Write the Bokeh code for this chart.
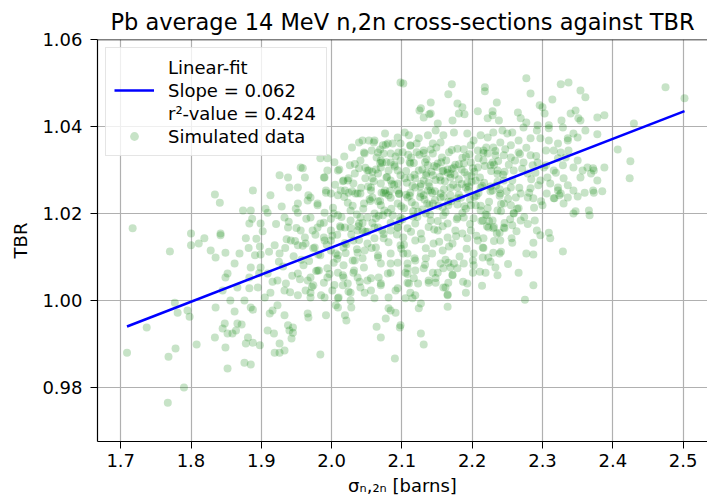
from bokeh.plotting import figure
from bokeh.models import (Range1d, FixedTicker, Span, Legend, LegendItem,
                          NumeralTickFormatter)
from bokeh.embed import file_html
from bokeh.resources import INLINE

# ---- data ----
TITLE = "Pb average 14 MeV n,2n cross-sections against TBR"
X_LABEL = "σₙ,₂ₙ [barns]"
Y_LABEL = "TBR"
X_TICKS = [1.7, 1.8, 1.9, 2.0, 2.1, 2.2, 2.3, 2.4, 2.5]
Y_TICKS = [0.98, 1.00, 1.02, 1.04, 1.06]

FIT_SLOPE = 0.0624
FIT_INTERCEPT = 0.8874
FIT_LABELS = ["Linear-fit", "Slope = 0.062", "r²-value = 0.424"]
SCATTER_LABEL = "Simulated data"

# outer / sparse points
sigma_n2n = [
    2.098, 2.044, 2.061, 2.080, 2.076, 2.094, 1.994, 2.047, 2.066, 2.084,
    1.956, 1.926, 1.938, 1.952, 1.962, 1.990, 2.009, 2.023, 2.033, 2.051,
    2.070, 1.834, 1.841, 1.888, 1.913, 1.940, 1.970, 1.952, 1.980, 1.999,
    2.019, 2.037, 2.056, 2.076, 2.094, 1.874, 1.885, 1.909, 1.933, 1.952,
    1.970, 1.990, 2.009, 2.027, 2.041, 2.061, 2.080, 1.717, 1.800, 1.842,
    1.883, 1.899, 1.938, 1.956, 1.980, 1.999, 2.019, 2.037, 2.061, 2.084,
    1.770, 1.800, 1.811, 1.819, 1.828, 1.835, 1.842, 1.849, 1.862, 1.869,
    1.878, 1.891, 1.899, 1.898, 1.852, 1.849, 1.845, 1.883, 1.895, 1.866,
    1.876, 1.856, 1.777, 1.781, 1.795, 1.798, 1.737, 1.835, 1.862, 1.885,
    1.888, 1.848, 1.845, 1.852, 1.859, 1.864, 1.866, 1.872, 1.834, 1.881,
    1.888, 1.878, 1.898, 1.849, 1.808, 1.778, 1.709, 1.768, 1.852, 1.876,
    1.885, 1.790, 1.767, 1.909, 1.918, 1.912, 1.916, 1.923, 1.933, 1.938,
    1.945, 1.940, 1.945, 1.943, 1.926, 1.919, 1.926, 1.933, 1.966, 1.967,
    1.984, 1.992, 2.009, 2.019, 2.021, 2.028, 2.064, 2.070, 2.077, 2.084,
    2.090, 2.097, 2.091, 1.919, 1.926, 1.942, 1.952, 1.962, 1.976, 1.990,
    1.999, 2.009, 2.033, 2.047, 2.066, 2.084, 1.909, 1.923, 1.935, 1.952,
    1.966, 1.980, 1.994, 2.009, 2.023, 2.037, 2.051, 2.070, 2.080, 2.091,
    1.913, 1.933, 1.952, 1.970, 1.990, 2.009, 2.027, 2.047, 2.061, 1.905,
    1.899, 1.885, 1.883, 2.102, 2.108, 2.105, 2.119, 2.117, 2.108, 2.112,
    2.105, 2.115, 2.127, 2.098, 2.127, 2.131, 2.138, 2.148, 2.151, 2.155,
    2.166, 2.169, 2.172, 2.166, 2.159, 2.165, 2.165, 2.188, 2.193, 2.191,
    2.201, 2.202, 2.219, 2.202, 2.215, 2.223, 2.215, 2.233, 2.230, 2.239,
    2.257, 2.266, 2.275, 2.277, 2.287, 2.287, 2.287, 2.297, 2.311, 2.329,
    2.263, 2.350, 2.360, 2.373, 2.385, 2.347, 2.344, 2.366, 2.367, 2.309,
    2.292, 2.289, 2.300, 2.317, 2.306, 2.324, 2.240, 2.239, 2.245, 2.235,
    2.230, 2.223, 2.216, 2.208, 2.269, 2.257, 2.259, 2.266, 2.255, 2.245,
    2.279, 2.287, 2.262, 2.236, 2.222, 2.212, 2.198, 2.202, 2.188, 2.186,
    2.198, 2.193, 2.215, 2.229, 2.475, 2.502, 2.430, 2.407, 2.425, 2.424,
    2.277, 2.326, 2.337, 2.354, 2.361, 2.378, 2.388, 2.378, 2.388, 2.171,
    2.166, 2.218, 2.218, 2.235, 2.208, 2.179, 2.186, 2.189, 2.141, 2.125,
    2.139, 2.131, 2.102, 2.283, 2.296, 2.300, 2.314, 2.303, 2.265, 2.269,
    2.277, 2.222, 2.229, 2.238, 2.293, 2.309, 2.327, 2.329, 2.340, 2.347,
    2.351, 2.354, 2.361, 2.344, 2.350, 2.336, 2.322, 2.344, 2.357, 2.364,
    2.369, 2.372, 2.354, 2.330, 2.322, 2.326, 2.336, 2.316, 2.330, 2.344,
    2.302, 2.316, 2.333, 2.322, 2.229, 2.309, 2.292, 2.273, 2.257, 2.243,
    2.250, 2.230, 2.222, 2.212, 2.202, 2.198, 2.193, 2.208, 2.216, 2.230,
    2.240, 2.255, 2.266, 2.283, 2.297, 2.309, 2.336, 2.305, 2.316, 2.326,
    2.337, 2.350, 2.373, 2.378, 2.372, 2.336, 2.322, 2.311, 2.307, 2.319,
    2.329, 2.293, 2.297, 2.283, 2.269, 2.255, 2.245, 2.236, 2.226, 2.216,
    2.208, 2.198, 2.188, 2.193, 2.205, 2.212, 2.191, 2.229, 2.240, 2.259,
    2.273, 2.283, 2.266, 2.255, 2.245, 2.233, 2.222, 2.279, 2.290, 2.305,
    2.127, 2.141, 2.151, 2.172, 2.181, 2.104, 2.110, 2.124, 2.137, 2.148,
    2.159, 2.174, 2.155, 2.144, 2.131, 2.112, 2.098, 2.087, 2.073, 2.060,
    2.039, 2.046, 2.057, 2.074, 2.095, 2.070, 2.084, 2.098, 2.112, 2.039,
    2.053, 2.066, 2.081, 2.094, 2.048, 2.058, 2.070, 2.084, 2.098, 2.017,
    2.031, 2.013, 2.024, 2.041, 2.056, 2.077, 2.094, 1.984, 1.989, 1.994,
    1.959, 1.992, 1.967, 2.112, 2.124, 2.137, 2.151, 2.159, 2.174, 2.119,
    2.131, 2.144, 2.155, 2.169, 2.179, 2.127, 2.141, 2.155, 2.169, 1.966,
    1.980, 1.992, 2.009, 2.023, 2.034, 2.046, 2.058, 2.070, 2.081, 2.094,
    2.108, 2.119, 2.131, 2.144, 2.155, 2.166, 2.179, 2.112, 2.074, 1.973,
    1.984, 1.989, 2.003, 2.013, 2.027, 2.039, 2.044, 2.051, 2.066, 2.073,
    2.084, 2.098, 2.108, 2.119, 2.127, 2.141, 2.151, 2.165, 2.176, 2.179,
    2.159, 2.134, 2.094, 1.963, 1.974, 1.999, 2.006, 2.017, 2.031, 2.037,
    2.051, 2.063, 2.074, 2.084, 2.098, 2.108, 2.119, 2.134, 2.145, 2.158,
    2.172, 2.165, 2.102, 2.066, 1.984, 1.960, 1.970, 1.982, 1.994, 2.003,
    2.017, 2.030, 2.031, 2.046, 2.056, 2.070, 2.084, 2.094, 2.108, 2.119,
    2.131, 2.144, 2.134, 2.159, 2.174, 2.067, 2.017, 1.963, 1.974, 1.989,
    2.001, 2.016, 2.027, 2.041, 2.056, 2.070, 2.081, 2.094, 2.110, 2.119,
    2.138, 2.162, 2.165, 1.970, 2.010, 2.081, 2.124, 2.006,
]

tbr = [
    1.0501, 1.0368, 1.0368, 1.0361, 1.0384, 1.0375, 1.0327, 1.0338, 1.0340, 1.0338,
    1.0306, 1.0288, 1.0283, 1.0260, 1.0283, 1.0283, 1.0299, 1.0276, 1.0292, 1.0299,
    1.0306, 1.0244, 1.0225, 1.0253, 1.0242, 1.0260, 1.0237, 1.0223, 1.0219, 1.0246,
    1.0253, 1.0246, 1.0260, 1.0253, 1.0269, 1.0207, 1.0207, 1.0202, 1.0191, 1.0202,
    1.0191, 1.0202, 1.0196, 1.0207, 1.0191, 1.0200, 1.0202, 1.0166, 1.0154, 1.0154,
    1.0177, 1.0177, 1.0168, 1.0161, 1.0168, 1.0161, 1.0168, 1.0161, 1.0168, 1.0161,
    1.0113, 1.0127, 1.0131, 1.0143, 1.0115, 1.0099, 1.0150, 1.0110, 1.0085, 1.0108,
    1.0143, 1.0104, 1.0106, 1.0124, 1.0062, 1.0053, 1.0023, 1.0053, 1.0030, 1.0030,
    1.0000, 1.0000, 0.9995, 0.9972, 0.9977, 0.9963, 0.9938, 0.9984, 0.9975, 0.9984,
    0.9979, 0.9947, 0.9936, 0.9924, 0.9924, 0.9931, 0.9947, 0.9945, 0.9915, 0.9915,
    0.9903, 0.9901, 0.9897, 0.9892, 0.9899, 0.9890, 0.9880, 0.9871, 0.9844, 0.9857,
    0.9853, 0.9800, 0.9765, 0.9931, 0.9924, 0.9970, 0.9977, 0.9989, 0.9966, 0.9943,
    0.9938, 0.9931, 0.9926, 0.9913, 0.9901, 0.9880, 0.9880, 0.9885, 0.9970, 0.9961,
    0.9876, 0.9966, 0.9984, 0.9966, 0.9954, 0.9984, 0.9940, 0.9915, 0.9959, 0.9977,
    0.9867, 0.9938, 0.9972, 1.0127, 1.0108, 1.0138, 1.0127, 1.0145, 1.0122, 1.0138,
    1.0115, 1.0104, 1.0092, 1.0115, 1.0099, 1.0085, 1.0062, 1.0046, 1.0039, 1.0062,
    1.0046, 1.0069, 1.0053, 1.0064, 1.0039, 1.0053, 1.0046, 1.0039, 1.0062, 1.0023,
    1.0018, 1.0023, 1.0012, 1.0018, 1.0007, 1.0005, 1.0000, 1.0018, 1.0005, 1.0007,
    1.0076, 1.0076, 1.0028, 1.0108, 1.0085, 1.0064, 1.0069, 1.0051, 1.0041, 1.0018,
    1.0005, 1.0005, 0.9993, 0.9943, 0.9924, 0.9899, 1.0041, 1.0041, 1.0064, 1.0085,
    1.0087, 1.0076, 1.0058, 1.0041, 1.0030, 1.0014, 0.9986, 1.0085, 1.0039, 1.0018,
    1.0064, 1.0081, 1.0064, 1.0108, 1.0099, 1.0099, 1.0122, 1.0076, 1.0110, 1.0108,
    1.0133, 1.0064, 1.0002, 1.0108, 1.0106, 1.0035, 1.0133, 1.0150, 1.0143, 1.0113,
    1.0159, 1.0239, 1.0248, 1.0248, 1.0251, 1.0205, 1.0200, 1.0207, 1.0196, 1.0156,
    1.0161, 1.0184, 1.0219, 1.0235, 1.0246, 1.0242, 1.0138, 1.0156, 1.0168, 1.0154,
    1.0166, 1.0168, 1.0143, 1.0138, 1.0184, 1.0173, 1.0200, 1.0212, 1.0219, 1.0223,
    1.0237, 1.0235, 1.0237, 1.0207, 1.0212, 1.0207, 1.0219, 1.0189, 1.0191, 1.0154,
    1.0161, 1.0143, 1.0184, 1.0184, 1.0490, 1.0465, 1.0407, 1.0347, 1.0320, 1.0281,
    1.0511, 1.0497, 1.0501, 1.0483, 1.0467, 1.0421, 1.0426, 1.0382, 1.0306, 1.0497,
    1.0474, 1.0490, 1.0481, 1.0455, 1.0435, 1.0453, 1.0444, 1.0428, 1.0455, 1.0437,
    1.0428, 1.0421, 1.0499, 1.0476, 1.0449, 1.0444, 1.0462, 1.0430, 1.0432, 1.0419,
    1.0409, 1.0419, 1.0426, 1.0414, 1.0403, 1.0403, 1.0414, 1.0398, 1.0430, 1.0437,
    1.0419, 1.0414, 1.0391, 1.0384, 1.0375, 1.0368, 1.0361, 1.0306, 1.0299, 1.0306,
    1.0292, 1.0304, 1.0283, 1.0281, 1.0260, 1.0246, 1.0237, 1.0235, 1.0223, 1.0253,
    1.0306, 1.0299, 1.0329, 1.0327, 1.0435, 1.0396, 1.0391, 1.0398, 1.0386, 1.0391,
    1.0384, 1.0386, 1.0375, 1.0380, 1.0368, 1.0357, 1.0384, 1.0345, 1.0345, 1.0352,
    1.0363, 1.0357, 1.0368, 1.0373, 1.0373, 1.0368, 1.0373, 1.0345, 1.0345, 1.0340,
    1.0345, 1.0322, 1.0299, 1.0276, 1.0253, 1.0265, 1.0253, 1.0269, 1.0283, 1.0294,
    1.0311, 1.0317, 1.0276, 1.0258, 1.0246, 1.0260, 1.0276, 1.0299, 1.0311, 1.0322,
    1.0306, 1.0317, 1.0315, 1.0288, 1.0276, 1.0260, 1.0260, 1.0253, 1.0246, 1.0299,
    1.0317, 1.0334, 1.0340, 1.0329, 1.0334, 1.0334, 1.0338, 1.0292, 1.0294, 1.0311,
    1.0442, 1.0430, 1.0407, 1.0414, 1.0430, 1.0386, 1.0380, 1.0373, 1.0380, 1.0391,
    1.0380, 1.0386, 1.0363, 1.0361, 1.0345, 1.0357, 1.0361, 1.0361, 1.0357, 1.0363,
    1.0363, 1.0340, 1.0345, 1.0338, 1.0340, 1.0322, 1.0317, 1.0322, 1.0315, 1.0304,
    1.0299, 1.0292, 1.0299, 1.0299, 1.0281, 1.0281, 1.0269, 1.0276, 1.0288, 1.0276,
    1.0269, 1.0253, 1.0248, 1.0246, 1.0253, 1.0246, 1.0253, 1.0327, 1.0283, 1.0299,
    1.0304, 1.0253, 1.0242, 1.0283, 1.0299, 1.0311, 1.0315, 1.0299, 1.0306, 1.0260,
    1.0276, 1.0288, 1.0276, 1.0283, 1.0260, 1.0246, 1.0253, 1.0246, 1.0242, 1.0230,
    1.0223, 1.0248, 1.0242, 1.0225, 1.0246, 1.0223, 1.0237, 1.0219, 1.0242, 1.0223,
    1.0237, 1.0219, 1.0242, 1.0223, 1.0237, 1.0219, 1.0235, 1.0248, 1.0248, 1.0161,
    1.0177, 1.0145, 1.0200, 1.0168, 1.0184, 1.0177, 1.0161, 1.0191, 1.0168, 1.0196,
    1.0179, 1.0191, 1.0166, 1.0177, 1.0154, 1.0184, 1.0161, 1.0177, 1.0161, 1.0191,
    1.0196, 1.0200, 1.0168, 1.0131, 1.0120, 1.0138, 1.0108, 1.0122, 1.0138, 1.0110,
    1.0131, 1.0122, 1.0143, 1.0108, 1.0127, 1.0108, 1.0138, 1.0120, 1.0131, 1.0115,
    1.0131, 1.0145, 1.0145, 1.0104, 1.0104, 1.0081, 1.0053, 1.0069, 1.0074, 1.0087,
    1.0081, 1.0092, 1.0064, 1.0076, 1.0051, 1.0085, 1.0064, 1.0087, 1.0074, 1.0092,
    1.0074, 1.0064, 1.0097, 1.0074, 1.0085, 1.0053, 1.0053, 1.0023, 1.0035, 1.0041,
    1.0023, 1.0035, 1.0018, 1.0030, 1.0023, 1.0035, 1.0007, 1.0028, 1.0039, 1.0012,
    1.0046, 1.0030, 1.0012, 1.0007, 1.0007, 0.9982, 0.9982, 0.9989,
]

# additional points in the crowded core of the cloud
sigma_n2n_core = [
    2.103, 2.107, 2.111, 2.114, 2.118, 2.121, 2.123, 2.126, 2.129, 2.132,
    2.135, 2.138, 2.140, 2.143, 2.146, 2.149, 2.152, 2.154, 2.157, 2.160,
    2.162, 2.165, 2.167, 2.170, 2.173, 2.176, 2.178, 2.181, 2.184, 2.186,
    2.189, 2.191, 2.194, 2.196, 2.199, 2.106, 2.116, 2.125, 2.134, 2.147,
    2.158, 2.169, 2.179, 2.188, 2.197, 2.112, 2.139, 2.163, 2.185, 2.144,
    2.203, 2.206, 2.209, 2.213, 2.217, 2.220, 2.224, 2.227, 2.231, 2.234,
    2.237, 2.241, 2.244, 2.247, 2.251, 2.254, 2.257, 2.261, 2.264, 2.267,
    2.271, 2.274, 2.277, 2.281, 2.284, 2.288, 2.291, 2.294, 2.298, 2.226,
    2.212, 2.239, 2.252, 2.268, 2.286, 2.246, 2.259, 2.218, 2.233, 2.279,
    2.002, 2.005, 2.008, 2.011, 2.014, 2.018, 2.021, 2.024, 2.027, 2.030,
    2.033, 2.036, 2.039, 2.042, 2.045, 2.048, 2.051, 2.054, 2.057, 2.060,
    2.063, 2.066, 2.069, 2.072, 2.075, 2.078, 2.081, 2.084, 2.087, 2.090,
    2.093, 2.096, 2.099, 2.016, 2.029, 2.044, 2.058, 2.071, 2.086, 2.097,
    1.931, 1.936, 1.941, 1.946, 1.950, 1.955, 1.959, 1.964, 1.968, 1.972,
    1.977, 1.981, 1.985, 1.989, 1.993, 1.997, 2.001, 2.004, 2.008, 2.012,
    2.016, 2.020, 2.024, 2.028, 2.032, 2.036, 2.040, 2.044, 2.048, 1.957,
    1.978, 1.999, 2.019, 2.038, 1.948,
    2.103, 2.108, 2.113, 2.118, 2.123, 2.128, 2.133, 2.138, 2.143, 2.148,
    2.153, 2.158, 2.162, 2.167, 2.172, 2.177, 2.182, 2.187, 2.192, 2.197,
    2.201, 2.206, 2.211, 2.216, 2.221, 2.226, 2.231, 2.236, 2.241, 2.246,
    2.251, 2.256, 2.146, 2.179, 2.214,
    1.882, 1.887, 1.893, 1.897, 1.902, 1.906, 1.911, 1.916, 1.921, 1.925,
    1.929, 1.934, 1.939, 1.944, 1.949,
    2.004, 2.018, 2.029, 2.041, 2.053, 2.064, 2.077, 2.089, 2.101, 2.113,
    2.121, 2.133, 2.141, 2.026, 2.069,
]

tbr_core = [
    1.0212, 1.0271, 1.0318, 1.0226, 1.0289, 1.0341, 1.0204, 1.0262, 1.0301, 1.0232,
    1.0325, 1.0271, 1.0198, 1.0247, 1.0309, 1.0352, 1.0218, 1.0284, 1.0329, 1.0256,
    1.0203, 1.0294, 1.0341, 1.0228, 1.0266, 1.0312, 1.0187, 1.0279, 1.0236, 1.0328,
    1.0295, 1.0211, 1.0254, 1.0336, 1.0273, 1.0243, 1.0193, 1.0335, 1.0288, 1.0231,
    1.0297, 1.0259, 1.0221, 1.0348, 1.0232, 1.0356, 1.0219, 1.0322, 1.0301, 1.0338,
    1.0296, 1.0241, 1.0327, 1.0183, 1.0271, 1.0352, 1.0227, 1.0298, 1.0169, 1.0264,
    1.0321, 1.0205, 1.0289, 1.0348, 1.0234, 1.0187, 1.0276, 1.0322, 1.0211, 1.0259,
    1.0303, 1.0192, 1.0351, 1.0248, 1.0279, 1.0213, 1.0332, 1.0265, 1.0228, 1.0262,
    1.0218, 1.0241, 1.0312, 1.0337, 1.0311, 1.0178, 1.0201, 1.0309, 1.0344, 1.0176,
    1.0213, 1.0266, 1.0151, 1.0301, 1.0192, 1.0238, 1.0129, 1.0281, 1.0167, 1.0218,
    1.0314, 1.0198, 1.0139, 1.0259, 1.0211, 1.0305, 1.0158, 1.0233, 1.0121, 1.0274,
    1.0189, 1.0228, 1.0316, 1.0161, 1.0207, 1.0283, 1.0134, 1.0236, 1.0196, 1.0308,
    1.0152, 1.0245, 1.0119, 1.0274, 1.0251, 1.0178, 1.0296, 1.0248, 1.0268, 1.0183,
    1.0078, 1.0141, 1.0019, 1.0102, 1.0167, 1.0049, 1.0126, 1.0188, 1.0091, 1.0031,
    1.0151, 1.0106, 1.0012, 1.0179, 1.0128, 1.0061, 1.0149, 1.0036, 1.0096, 1.0171,
    1.0058, 1.0109, 1.0021, 1.0152, 1.0069, 1.0118, 1.0043, 1.0097, 1.0158, 1.0094,
    1.0068, 1.0188, 1.0132, 1.0171, 1.0137,
    1.0128, 1.0061, 1.0158, 1.0097, 1.0039, 1.0141, 1.0082, 1.0169, 1.0108, 1.0052,
    1.0135, 1.0171, 1.0094, 1.0124, 1.0059, 1.0148, 1.0101, 1.0043, 1.0119, 1.0176,
    1.0092, 1.0149, 1.0066, 1.0121, 1.0171, 1.0089, 1.0137, 1.0058, 1.0112, 1.0166,
    1.0084, 1.0143, 1.0163, 1.0074, 1.0034,
    1.0121, 1.0188, 1.0142, 1.0063, 1.0159, 1.0211, 1.0112, 1.0043, 1.0176, 1.0089,
    1.0216, 1.0121, 1.0181, 1.0057, 1.0211,
    1.0318, 1.0331, 1.0352, 1.0322, 1.0368, 1.0329, 1.0358, 1.0312, 1.0341, 1.0329,
    1.0361, 1.0318, 1.0347, 1.0311, 1.0347,
]

# densest band of the cloud
sigma_n2n_dense = [
    2.052, 2.058, 2.063, 2.069, 2.074, 2.079, 2.085, 2.091, 2.096, 2.101,
    2.106, 2.111, 2.117, 2.122, 2.127, 2.131, 2.136, 2.142, 2.147, 2.151,
    2.156, 2.161, 2.166, 2.171, 2.175, 2.181, 2.186, 2.191, 2.195, 2.201,
    2.205, 2.211, 2.216, 2.221, 2.226, 2.231, 2.236, 2.241, 2.246, 2.249,
    2.055, 2.067, 2.078, 2.089, 2.099, 2.109, 2.119, 2.129, 2.139, 2.149,
    2.159, 2.169, 2.179, 2.189, 2.199, 2.209, 2.219, 2.229, 2.239, 2.061,
    2.083, 2.104, 2.126, 2.148, 2.171, 2.193, 2.214, 2.236, 2.072, 2.094,
    2.116, 2.137, 2.158, 2.181, 2.203, 2.224, 2.115, 2.165, 2.185, 2.135,
]

tbr_dense = [
    1.0262, 1.0178, 1.0301, 1.0229, 1.0153, 1.0284, 1.0211, 1.0331, 1.0246, 1.0187,
    1.0298, 1.0241, 1.0316, 1.0192, 1.0268, 1.0339, 1.0223, 1.0296, 1.0251, 1.0183,
    1.0318, 1.0274, 1.0227, 1.0346, 1.0289, 1.0243, 1.0201, 1.0331, 1.0262, 1.0304,
    1.0219, 1.0283, 1.0339, 1.0196, 1.0251, 1.0312, 1.0273, 1.0222, 1.0296, 1.0251,
    1.0229, 1.0195, 1.0318, 1.0266, 1.0217, 1.0335, 1.0281, 1.0209, 1.0262, 1.0307,
    1.0239, 1.0291, 1.0349, 1.0217, 1.0286, 1.0247, 1.0198, 1.0317, 1.0256, 1.0143,
    1.0252, 1.0281, 1.0238, 1.0277, 1.0303, 1.0271, 1.0264, 1.0291, 1.0317, 1.0168,
    1.0205, 1.0253, 1.0214, 1.0313, 1.0238, 1.0182, 1.0264, 1.0301, 1.0268, 1.0293,
]

assert len(sigma_n2n) == len(tbr)
assert len(sigma_n2n_core) == len(tbr_core)
assert len(sigma_n2n_dense) == len(tbr_dense)

x_all = sigma_n2n + sigma_n2n_core + sigma_n2n_dense
y_all = tbr + tbr_core + tbr_dense

# ---- figure ----
FONT = "DejaVu Sans"
p = figure(width=707, height=502, output_backend="svg", toolbar_location=None,
           x_range=Range1d(1.667, 2.5347), y_range=Range1d(0.9676, 1.06),
           min_border_left=97, min_border_right=0, min_border_top=39,
           min_border_bottom=61, background_fill_color="white",
           border_fill_color="white")
p.outline_line_color = None

p.title.text = TITLE
p.title.align = "center"
p.title.vertical_align = "top"
p.title.text_font = FONT
p.title.text_font_size = "22.5px"
p.title.text_font_style = "normal"
p.title.text_color = "black"
p.title.standoff = 6

for ax in (p.xaxis[0], p.yaxis[0]):
    ax.axis_line_color = "black"
    ax.axis_line_width = 1.2
    ax.major_tick_line_color = "black"
    ax.major_tick_out = 7
    ax.major_tick_in = 0
    ax.minor_tick_line_color = None
    ax.major_label_text_font = FONT
    ax.major_label_text_font_size = "18px"
    ax.major_label_text_color = "black"
    ax.axis_label_text_font = FONT
    ax.axis_label_text_font_size = "18px"
    ax.axis_label_text_font_style = "normal"
    ax.axis_label_text_color = "black"

p.xaxis.ticker = FixedTicker(ticks=X_TICKS)
p.yaxis.ticker = FixedTicker(ticks=Y_TICKS)
p.xaxis.formatter = NumeralTickFormatter(format="0.0")
p.yaxis.formatter = NumeralTickFormatter(format="0.00")
p.xaxis.axis_label = X_LABEL
p.yaxis.axis_label = Y_LABEL
p.xaxis.major_label_standoff = 5
p.yaxis.major_label_standoff = 8
p.xaxis.axis_label_standoff = 5
p.yaxis.axis_label_standoff = 8

p.grid.grid_line_color = "#b0b0b0"
p.grid.grid_line_width = 1.2

# top spine
p.add_layout(Span(location=Y_TICKS[-1], dimension="width",
                  line_color="black", line_width=1.5))

scat = p.scatter(x_all, y_all, size=8, fill_color="green", fill_alpha=0.22,
                 line_color=None)

x_lo, x_hi = min(x_all), max(x_all)
fit = p.line([x_lo, x_hi],
             [FIT_INTERCEPT + FIT_SLOPE * x_lo, FIT_INTERCEPT + FIT_SLOPE * x_hi],
             line_color="#0000ff", line_width=2.5)

blank1 = p.line([], [], line_alpha=0)
blank2 = p.line([], [], line_alpha=0)

legend = Legend(items=[
    LegendItem(label=FIT_LABELS[0], renderers=[blank1]),
    LegendItem(label=FIT_LABELS[1], renderers=[fit]),
    LegendItem(label=FIT_LABELS[2], renderers=[blank2]),
    LegendItem(label=SCATTER_LABEL, renderers=[scat]),
])
legend.location = "top_left"
legend.margin = 8
legend.padding = 8
legend.spacing = 1
legend.label_height = 22
legend.glyph_height = 22
legend.glyph_width = 40
legend.label_standoff = 14
legend.label_width = 150
legend.label_text_font = FONT
legend.label_text_font_size = "18px"
legend.label_text_color = "black"
legend.border_line_color = "#cccccc"
legend.border_line_width = 1
legend.background_fill_alpha = 0.8
p.add_layout(legend, "center")

open("out.html", "w").write(file_html(p, INLINE))
